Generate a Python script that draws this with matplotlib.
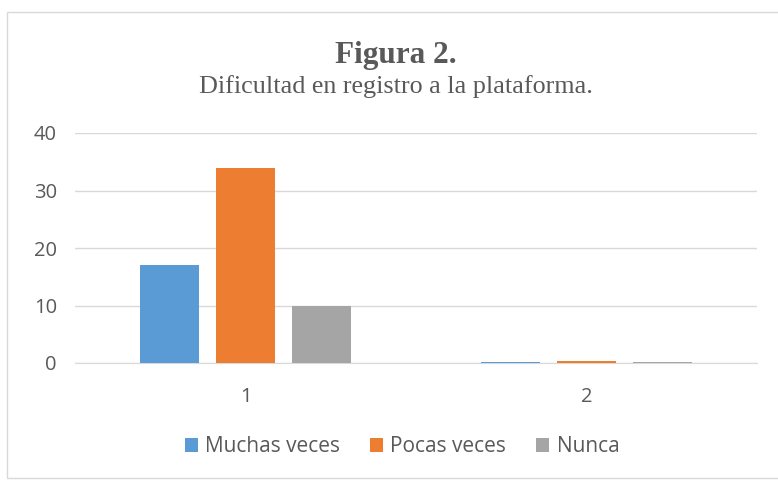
import numpy as np
import matplotlib.pyplot as plt
from matplotlib.patches import Rectangle

categorias = ["1", "2"]
series = ["Muchas veces", "Pocas veces", "Nunca"]
muchas = [17, 0.1]
pocas = [34, 0.4]
nunca = [10, 0.1]
colores = ["#5B9BD5", "#ED7D31", "#A5A5A5"]

gris = "#595959"
plt.rcParams["font.family"] = ["Open Sans", "DejaVu Sans"]

fig = plt.figure(figsize=(7.78, 4.8), dpi=100)
# marco del grafico
fig.patches.append(Rectangle((7 / 778, 0.004), 0.995, 1 - 12 / 480 - 0.004,
                             transform=fig.transFigure, fill=False,
                             edgecolor="#D9D9D9", linewidth=1))

ax = fig.add_axes([75 / 778, 1 - 363 / 480, 682 / 778, 230 / 480])

x = np.arange(len(categorias))
ancho = 0.173
paso = 0.223
for i, (vals, nombre) in enumerate(zip([muchas, pocas, nunca], series)):
    ax.bar(x + (i - 1) * paso, vals, ancho, color=colores[i], label=nombre, zorder=3)

ax.set_xlim(-0.5, 1.5)
ax.set_ylim(0, 40)
ax.set_yticks([0, 10, 20, 30, 40])
ax.set_xticks(x)
ax.set_xticklabels(categorias)
ax.grid(axis="y", color="#D9D9D9", linewidth=1, zorder=0)
for s in ["top", "right", "left"]:
    ax.spines[s].set_visible(False)
ax.spines["bottom"].set_color("#D9D9D9")
ax.tick_params(axis="both", length=0, labelsize=14.5, colors=gris)
ax.tick_params(axis="y", pad=13)
ax.tick_params(axis="x", pad=17)

cx = 396 / 778
fig.text(cx, 1 - 63 / 480, "Figura 2.", ha="center", va="baseline",
         family="Liberation Serif", fontweight="bold", fontsize=22.5, color=gris)
fig.text(cx, 1 - 93 / 480, "Dificultad en registro a la plataforma.", ha="center",
         va="baseline", family="Liberation Serif", fontsize=18.8, color=gris)

leg = fig.legend(loc="center", bbox_to_anchor=(402 / 778, 1 - 447 / 480), ncol=3,
                 frameon=False, fontsize=15, handlelength=0.62, handleheight=0.62,
                 handletextpad=0.35, columnspacing=1.45)
for t in leg.get_texts():
    t.set_color(gris)

fig.savefig("out.png", dpi=100)
